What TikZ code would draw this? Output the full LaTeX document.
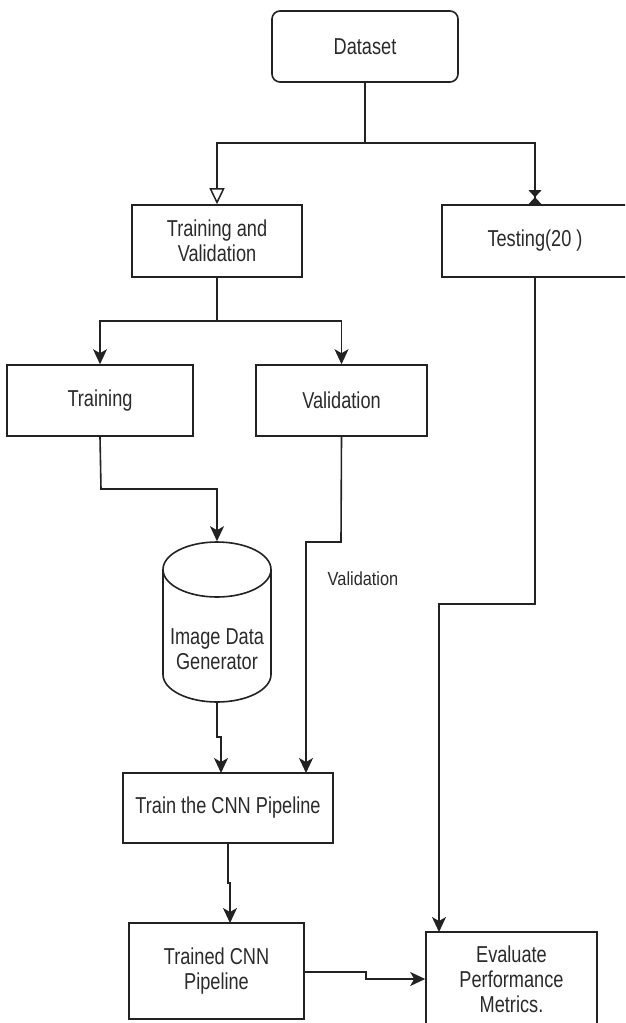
\documentclass[tikz,border=0pt]{standalone}
\usepackage{fontspec}
\setmainfont{Liberation Sans}[FakeStretch=0.79]
\newfontfamily\labelfont{Liberation Sans}[FakeStretch=0.86]
\usetikzlibrary{arrows.meta}
\definecolor{ln}{HTML}{222222}
\definecolor{tx}{HTML}{2A2A2A}
\begin{document}
\begin{tikzpicture}[x=1pt,y=-1pt,
  box/.style={draw=ln,line width=1.6pt,inner sep=0pt,align=center,text=tx,
    font=\fontsize{23}{25}\selectfont},
  rbox/.style={box,rounded corners=8pt},
  conn/.style={draw=ln,line width=1.6pt,
    -{Stealth[length=15pt,width=14pt,inset=4pt]}},
  plain/.style={draw=ln,line width=1.6pt},
  lbl/.style={text=tx,font=\labelfont\fontsize{19}{22}\selectfont,inner sep=0pt}]
\useasboundingbox (0,0) rectangle (625,1023);
\fill[white] (0,0) rectangle (625,1023);
\clip (0,0) rectangle (625,1023);

% nodes
\node[rbox,minimum width=186,minimum height=71] (ds) at (365,46.5) {Dataset};
\node[box,minimum width=170,minimum height=72] (tv) at (217,241) {Training and\\Validation};
\node[box,minimum width=186,minimum height=72] (test) at (535,241) {Testing(20 )};
\node[box,minimum width=186,minimum height=71] (train) at (100,400.5) {Training};
\node[box,minimum width=171,minimum height=71] (val) at (341.5,400.5) {Validation};
\node[box,draw=none,minimum width=108,minimum height=160] (gen) at (217,622) {};
\node[text=tx,font=\fontsize{23}{25}\selectfont,align=center,inner sep=0pt] (gentext) at (217,649) {Image Data\\Generator};
\node[box,minimum width=210,minimum height=70] (cnn) at (228,808) {Train the CNN Pipeline};
\node[box,minimum width=175,minimum height=96] (trained) at (216.5,971) {Trained CNN\\Pipeline};
\node[box,minimum width=171,minimum height=94] (eval) at (511.5,979) {Evaluate\\Performance\\Metrics.};
\node[lbl] (vlabel) at (363,579) {Validation};

% cylinder
\draw[ln,line width=1.6pt] (217,569.5) ellipse [x radius=54, y radius=27.5];
\draw[ln,line width=1.6pt] (163,569.5) -- (163,674.5)
  arc[start angle=180,end angle=0,x radius=54,y radius=27.5] -- (271,569.5);

% junctions
\coordinate (j1) at (365,143);
\coordinate (j2) at (217,321);

% connectors
\draw[plain] (ds.south) -- (j1);
\draw[draw=ln,line width=1.6pt,-{Triangle[open,length=16pt,width=15pt,line width=1.5pt]}]
  (j1) -| (tv.north);
\draw[plain] (j1) -| (test.north);
% bow-tie end marker on the Testing connector
\fill[ln] ([xshift=-6.5pt,yshift=14pt]test.north) -- ([xshift=6.5pt,yshift=14pt]test.north)
  -- ([yshift=7pt]test.north) -- ([xshift=6.5pt]test.north)
  -- ([xshift=-6.5pt]test.north) -- ([yshift=7pt]test.north) -- cycle;
\draw[plain] (tv.south) -- (j2);
\draw[conn] (j2) -| (train.north);
\draw[conn] (j2) -| (val.north);
\draw[conn] (train.south) -- (101,489) -| (gen.north);
\draw[conn] (val.south) -- (341,542) -| (306,773);
\draw[conn] (535,277) -- (535,604) -| (439,932);
\draw[conn] (gen.south) -- (217,737) -- (221,737) -- (221,773);
\draw[conn] (cnn.south) -- (228,883) -- (230,883) -- (230,923);
\draw[conn] (trained.east |- 0,972) -- (366,972) -- (366,979) -- (eval.west);
\end{tikzpicture}
\end{document}
